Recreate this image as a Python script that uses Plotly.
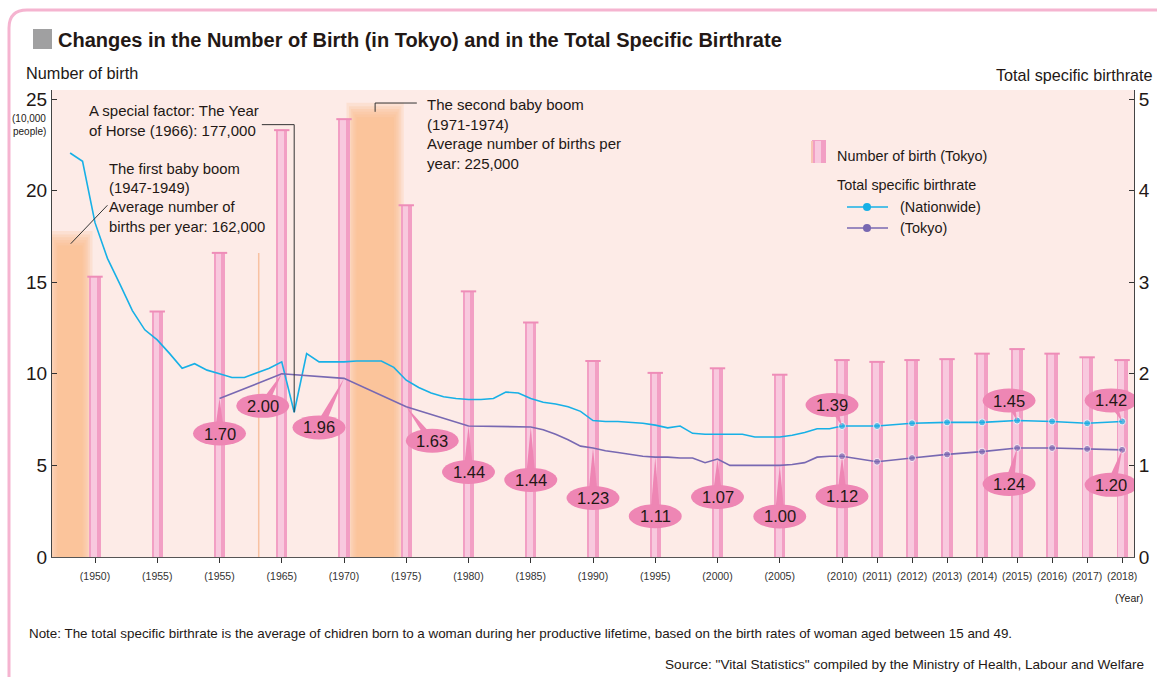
import plotly.graph_objects as go

# ---------------- data ----------------
bar_years = [1950, 1955, 1960, 1965, 1970, 1975, 1980, 1985, 1990, 1995, 2000, 2005,
             2010, 2011, 2012, 2013, 2014, 2015, 2016, 2017, 2018]
births_tokyo = [15.3, 13.4, 16.6, 23.3, 23.9, 19.2, 14.5, 12.8, 10.7, 10.05, 10.3, 9.95,
                10.75, 10.65, 10.75, 10.8, 11.1, 11.35, 11.1, 10.9, 10.75]
tick_labels = ["(1950)", "(1955)", "(1955)", "(1965)", "(1970)", "(1975)", "(1980)", "(1985)",
               "(1990)", "(1995)", "(2000)", "(2005)", "(2010)", "(2011)", "(2012)", "(2013)",
               "(2014)", "(2015)", "(2016)", "(2017)", "(2018)"]

nat_years = list(range(1948, 2019))
nat_tfr = [4.41, 4.32, 3.65, 3.26, 2.98, 2.69, 2.48, 2.37, 2.22, 2.06,
           2.11, 2.04, 2.00, 1.96, 1.96, 2.01, 2.06, 2.13, 1.58, 2.22,
           2.13, 2.13, 2.13, 2.14, 2.14, 2.14, 2.07, 1.93, 1.85, 1.79,
           1.75, 1.73, 1.72, 1.72, 1.73, 1.80, 1.79, 1.73, 1.69, 1.67,
           1.64, 1.59, 1.49, 1.48, 1.48, 1.47, 1.46, 1.44, 1.41, 1.43,
           1.35, 1.34, 1.34, 1.34, 1.34, 1.31, 1.31, 1.31, 1.33, 1.36,
           1.40, 1.40, 1.43, 1.43, 1.46, 1.47, 1.47, 1.49, 1.48, 1.46, 1.48]

tokyo_years = [1960, 1965, 1970, 1975, 1980, 1985] + list(range(1986, 2019))
tokyo_tfr = [1.73, 2.00, 1.95, 1.64, 1.43, 1.42,
             1.39, 1.34, 1.28, 1.21, 1.19, 1.16, 1.14, 1.12, 1.10, 1.09,
             1.09, 1.08, 1.08, 1.03, 1.07, 1.00, 1.00, 1.00, 1.00, 1.00,
             1.01, 1.03, 1.09, 1.10, 1.10, 1.04, 1.08, 1.12, 1.15, 1.19,
             1.19, 1.18, 1.17]

# value labels: text, series, year
label_texts = ["1.70", "2.00", "1.96", "1.63", "1.44", "1.44", "1.23", "1.11", "1.07", "1.00",
               "1.12", "1.24", "1.20", "1.39", "1.45", "1.42"]
label_series = ["tokyo"] * 13 + ["nat"] * 3
label_years = [1960, 1965, 1970, 1975, 1980, 1985, 1990, 1995, 2000, 2005,
               2010, 2015, 2018, 2010, 2015, 2018]
# pixel offsets of the bubble from its data point (style)
label_dx = [0, -19, -25, 26, 0, 0, 0, 0, 0, 0, 0, -8, -11, -10, -8, -11]
label_dy = [-35, -32, -49, -34, -46, -53, -50, -59, -38, -51, -40, -36, -35, 21, 20, 21]

boom_periods = [(1947, 1949), (1971, 1974)]
boom_band_tops = [17.0, 24.0]

# ---------------- helpers ----------------
def pos(year):
    """x scale: 5-year steps up to 2010, then annual steps."""
    if year <= 2010:
        return (year - 1950) / 5.0
    return 12 + (year - 2010) * 0.5625

L, R, T, B = 52, 1134, 90, 557
W, H = 1157, 677
def px(x):
    return (x - L) / (R - L)
def py(y):
    return (B - y) / (B - T)

FONT = "Liberation Sans Narrow, Arial Narrow, Liberation Sans, Arial, sans-serif"
TXT = "#231815"
CYAN = "#17B0E6"
PURP = "#7868B2"
PINK = "#EE86B4"

bar_x = [pos(y) for y in bar_years]
nat_x = [pos(y) for y in nat_years]
tok_x = [pos(y) for y in tokyo_years]

fig = go.Figure()

# bars (cylinder look: outer + highlight + cap)
fig.add_trace(go.Bar(x=bar_x, y=births_tokyo, width=0.18, marker=dict(color="#F29FC4", line=dict(width=0)),
                     yaxis="y", hoverinfo="skip"))
fig.add_trace(go.Bar(x=bar_x, y=births_tokyo, width=0.09, offset=-0.06,
                     marker=dict(color="#F8C9DE", line=dict(width=0)), yaxis="y", hoverinfo="skip"))
fig.add_trace(go.Scatter(x=bar_x, y=births_tokyo, yaxis="y", mode="markers", hoverinfo="skip",
                         marker=dict(symbol="line-ew", size=11, line=dict(width=2, color="#EE8DB8"))))

# lines
fig.add_trace(go.Scatter(x=nat_x, y=nat_tfr, yaxis="y2", mode="lines+markers",
                         line=dict(color=CYAN, width=1.6),
                         marker=dict(color=CYAN, size=[7 if y >= 2010 else 0 for y in nat_years]),
                         hoverinfo="skip"))
fig.add_trace(go.Scatter(x=tok_x, y=tokyo_tfr, yaxis="y2", mode="lines+markers",
                         line=dict(color=PURP, width=1.6),
                         marker=dict(color=PURP, size=[7 if y >= 2010 else 0 for y in tokyo_years]),
                         hoverinfo="skip"))

shapes = []
annotations = []

# baby-boom bands (soft edges via layered rects)
for (y0, y1), top in zip(boom_periods, boom_band_tops):
    for e in [0.16, 0.12, 0.09, 0.06, 0.03, 0.0]:
        shapes.append(dict(type="rect", xref="x", yref="y", layer="below",
                           x0=pos(y0) - e, x1=pos(y1) + e, y0=0, y1=top + e * 5,
                           fillcolor="rgba(251,186,132,0.21)", line=dict(width=0)))

# thin orange stripe
shapes.append(dict(type="line", xref="x", yref="y", layer="below", x0=2.63, x1=2.63, y0=0, y1=16.6,
                   line=dict(color="#F8C2A2", width=1.5)))

# callout lines
shapes.append(dict(type="path", xref="x", yref="y2", layer="above",
                   path=f"M 2.68 4.72 L {pos(1966)} 4.72 L {pos(1966)} {nat_tfr[nat_years.index(1966)]}",
                   line=dict(color="#333333", width=1)))
shapes.append(dict(type="line", xref="x", yref="y", layer="above", x0=-0.39, y0=17.1, x1=0.2, y1=19.2,
                   line=dict(color="#333333", width=1)))
shapes.append(dict(type="path", xref="x", yref="y", layer="above",
                   path="M 5.17 24.78 L 4.5 24.78 L 4.5 24.3",
                   line=dict(color="#333333", width=1)))

# value bubbles
for t, s, yr, dx, dy in zip(label_texts, label_series, label_years, label_dx, label_dy):
    if s == "nat":
        v = nat_tfr[nat_years.index(yr)]
    else:
        v = tokyo_tfr[tokyo_years.index(yr)]
    xa = pos(yr)
    shapes.append(dict(type="path", xref="x", yref="y2", xsizemode="pixel", ysizemode="pixel",
                       xanchor=xa, yanchor=v, layer="above",
                       path=f"M 0 0 L {dx - 5} {dy} L {dx + 5} {dy} Z",
                       fillcolor=PINK, line=dict(width=0)))
    shapes.append(dict(type="circle", xref="x", yref="y2", xsizemode="pixel", ysizemode="pixel",
                       xanchor=xa, yanchor=v, layer="above",
                       x0=dx - 26.5, x1=dx + 26.5, y0=dy - 12, y1=dy + 12,
                       fillcolor=PINK, line=dict(width=0)))
    annotations.append(dict(x=xa, y=v, xref="x", yref="y2", xshift=dx, yshift=dy, text=t,
                            showarrow=False, font=dict(family=FONT, size=16.5, color=TXT)))

# frame
shapes.append(dict(type="path", xref="paper", yref="paper", layer="above",
                   path=(f"M {px(9)} {py(720)} L {px(9)} {py(28)} Q {px(9)} {py(10)} {px(27)} {py(10)} "
                         f"L {px(1200)} {py(10)}"),
                   line=dict(color="#F5B4D0", width=3)))
# title square
shapes.append(dict(type="rect", xref="paper", yref="paper", x0=px(33), x1=px(52), y0=py(49), y1=py(29),
                   fillcolor="#A0A0A1", line=dict(width=0)))

# legend icons
shapes.append(dict(type="rect", xref="paper", yref="paper", x0=px(812), x1=px(826), y0=py(163), y1=py(140),
                   fillcolor="#F29FC4", line=dict(width=0)))
shapes.append(dict(type="rect", xref="paper", yref="paper", x0=px(815), x1=px(821), y0=py(163), y1=py(141),
                   fillcolor="#F8C9DE", line=dict(width=0)))
shapes.append(dict(type="rect", xref="paper", yref="paper", x0=px(811), x1=px(813), y0=py(163), y1=py(141),
                   fillcolor="#F8C4B4", line=dict(width=0)))
for yy, col in [(207, CYAN), (228, PURP)]:
    shapes.append(dict(type="line", xref="paper", yref="paper", x0=px(847), x1=px(888), y0=py(yy), y1=py(yy),
                       line=dict(color=col, width=1.6)))
    shapes.append(dict(type="circle", xref="paper", yref="paper", xsizemode="pixel", ysizemode="pixel",
                       xanchor=px(867), yanchor=py(yy), x0=-4, x1=4, y0=-4, y1=4,
                       fillcolor=col, line=dict(width=0)))

def txt(x, y, text, size, xanchor="left", yanchor="middle", bold=False, color=TXT):
    annotations.append(dict(x=px(x), y=py(y), xref="paper", yref="paper", text=text, showarrow=False,
                            xanchor=xanchor, yanchor=yanchor, align=xanchor if xanchor != "center" else "center",
                            borderpad=0,
                            font=dict(family=FONT, size=size, color=color,
                                      weight="bold" if bold else "normal")))

txt(57, 40, "Changes in the Number of Birth (in Tokyo) and in the Total Specific Birthrate", 20, bold=True)
txt(25, 73, "Number of birth", 16.3)
txt(29, 118, "(10,000", 10, xanchor="center")
txt(29, 131, "people)", 10, xanchor="center")
txt(1154, 75, "Total specific birthrate", 16.2, xanchor="right")
txt(88, 101, "A special factor: The Year<br>of Horse (1966): 177,000", 15, yanchor="top")
txt(108, 160, "The first baby boom<br>(1947-1949)<br>Average number of<br>births per year: 162,000", 14.8, yanchor="top")
txt(426, 95, "The second baby boom<br>(1971-1974)<br>Average number of births per<br>year: 225,000", 15, yanchor="top")
txt(836, 156, "Number of birth (Tokyo)", 14.4)
txt(836, 185, "Total specific birthrate", 14.4)
txt(899, 207, "(Nationwide)", 14.4)
txt(899, 228, "(Tokyo)", 14.4)
txt(1144, 598, "(Year)", 10.5, xanchor="right")
txt(28, 633, "Note: The total specific birthrate is the average of chidren born to a woman during her productive lifetime, "
             "based on the birth rates of woman aged between 15 and 49.", 13.4)
txt(1145, 664, "Source: \"Vital Statistics\" compiled by the Ministry of Health, Labour and Welfare", 13.6, xanchor="right")

fig.update_layout(
    width=W, height=677,
    margin=dict(l=L, r=W - R, t=T, b=H - B, pad=0, autoexpand=False),
    paper_bgcolor="white", plot_bgcolor="#FDEBE7",
    barmode="overlay", bargap=0, showlegend=False,
    font=dict(family=FONT, color=TXT),
    shapes=shapes, annotations=annotations,
    xaxis=dict(range=[(L - 95) / 62.25, (R - 95) / 62.25], tickvals=bar_x, ticktext=tick_labels,
               tickangle=0, tickfont=dict(size=10.5, color="#333333"), ticks="outside", ticklen=5,
               tickcolor="#333333", automargin=False, ticklabelstandoff=4,
               showline=True, linecolor="#555555", linewidth=1, showgrid=False, zeroline=False),
    yaxis=dict(range=[0, 25 * (B - T) / (557 - 99)], tickvals=[0, 5, 10, 15, 20, 25], automargin=False,
               tickfont=dict(size=19, color=TXT), ticks="inside", ticklen=5, tickcolor="#333333",
               showline=True, linecolor="#444444", linewidth=1, showgrid=False, zeroline=False),
    yaxis2=dict(range=[0, 5 * (B - T) / (557 - 99)], tickvals=[0, 1, 2, 3, 4, 5], overlaying="y", side="right",
                automargin=False,
                tickfont=dict(size=19, color=TXT), ticks="inside", ticklen=5, tickcolor="#333333",
                showline=True, linecolor="#444444", linewidth=1, showgrid=False, zeroline=False),
)

fig.write_html("out.html", config={"displayModeBar": False},
               post_script="document.body.style.margin='0';document.body.style.overflow='hidden';")
